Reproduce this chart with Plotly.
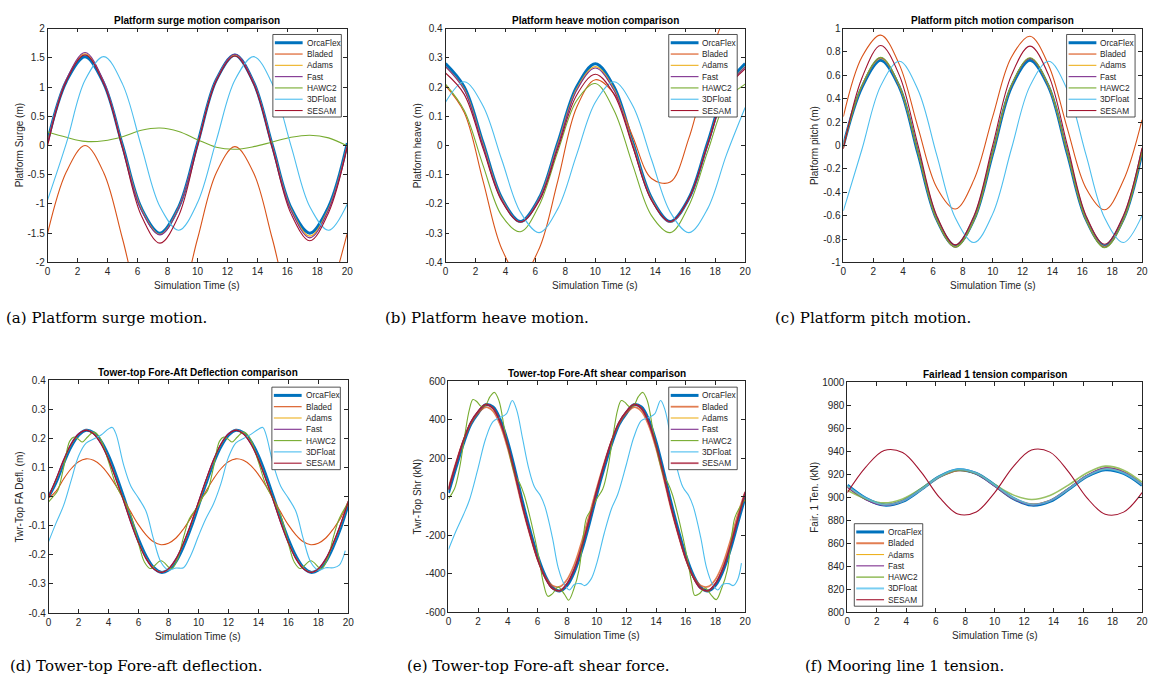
import plotly.graph_objects as go

# ---------------------------------------------------------------
# values (time in s)
# ---------------------------------------------------------------
T_COARSE = [0, 1.25, 2.5, 3.75, 5, 6.25, 7.5, 8.75, 10, 11.25, 12.5, 13.75, 15, 16.25, 17.5, 18.75, 20]
T_FINE = [0, 0.5, 1, 1.5, 2, 2.5, 3, 3.5, 4, 4.5, 5, 5.5, 6, 6.5, 7, 7.5, 8, 8.5, 9, 9.5, 10,
          10.5, 11, 11.5, 12, 12.5, 13, 13.5, 14, 14.5, 15, 15.5, 16, 16.5, 17, 17.5, 18, 18.5, 19, 19.5, 20]

NAMES = ["OrcaFlex", "Bladed", "Adams", "Fast", "HAWC2", "3DFloat", "SESAM"]
COLORS = ["#0072BD", "#D95319", "#EDB120", "#7E2F8E", "#77AC30", "#4DBEEE", "#A2142F"]

X_TICKS = [0, 2, 4, 6, 8, 10, 12, 14, 16, 18, 20]
X_LABELS = ["0", "2", "4", "6", "8", "10", "12", "14", "16", "18", "20"]

# (a) platform surge (m)
SURGE_ORCAFLEX = [0.08, 1.1, 1.52, 1.06, 0.0, -1.07, -1.5, -1.05, 0.03, 1.12, 1.55, 1.08, 0.0, -1.07, -1.5, -1.05, 0.04]
SURGE_BLADED = [-1.5, -0.45, 0.0, -0.47, -1.6, -2.8, -3.3, -2.8, -1.6, -0.47, -0.02, -0.47, -1.6, -2.8, -3.3, -2.6, -1.5]
SURGE_ADAMS = [0.06, 1.12, 1.57, 1.08, -0.01, -1.08, -1.52, -1.06, 0.02, 1.12, 1.55, 1.08, -0.01, -1.09, -1.55, -1.08, 0.01]
SURGE_FAST = [0.05, 1.13, 1.59, 1.09, -0.02, -1.1, -1.53, -1.07, 0.02, 1.12, 1.56, 1.08, -0.02, -1.11, -1.58, -1.1, 0.0]
SURGE_HAWC2 = [0.23, 0.14, 0.07, 0.08, 0.15, 0.26, 0.3, 0.24, 0.1, -0.03, -0.065, -0.02, 0.06, 0.14, 0.175, 0.13, -0.01]
SURGE_3DFLOAT = [-0.93, 0.04, 1.12, 1.52, 1.05, -0.01, -1.05, -1.45, -0.98, 0.08, 1.12, 1.52, 1.05, -0.01, -1.05, -1.45, -1.0]
SURGE_SESAM = [0.0, 1.1, 1.55, 1.05, -0.05, -1.2, -1.67, -1.2, -0.01, 1.1, 1.53, 1.05, -0.05, -1.17, -1.63, -1.15, -0.02]
SURGE_TICKS = [-2, -1.5, -1, -0.5, 0, 0.5, 1, 1.5, 2]
SURGE_LABELS = ["-2", "-1.5", "-1", "-0.5", "0", "0.5", "1", "1.5", "2"]

# (b) platform heave (m)
HEAVE_ORCAFLEX = [0.28, 0.2, 0.01, -0.18, -0.26, -0.18, 0.01, 0.2, 0.28, 0.2, 0.01, -0.18, -0.26, -0.18, 0.01, 0.2, 0.28]
HEAVE_BLADED = [0.205, 0.113, -0.12, -0.353, -0.45, -0.353, -0.12, 0.13, 0.225, 0.177, 0.03, -0.113, -0.125, 0.026, 0.26, 0.437, 0.455]
HEAVE_ADAMS = [0.27, 0.193, 0.005, -0.182, -0.262, -0.182, 0.005, 0.193, 0.27, 0.193, 0.005, -0.182, -0.262, -0.182, 0.005, 0.193, 0.27]
HEAVE_FAST = [0.27, 0.19, 0.0, -0.185, -0.262, -0.184, 0.0, 0.188, 0.265, 0.188, 0.0, -0.185, -0.262, -0.183, 0.0, 0.19, 0.268]
HEAVE_HAWC2 = [0.21, 0.12, -0.067, -0.24, -0.295, -0.205, -0.02, 0.153, 0.212, 0.12, -0.067, -0.24, -0.298, -0.205, -0.02, 0.153, 0.21]
HEAVE_3DFLOAT = [0.148, 0.218, 0.136, -0.048, -0.228, -0.298, -0.216, -0.032, 0.148, 0.218, 0.136, -0.048, -0.228, -0.298, -0.216, -0.032, 0.13]
HEAVE_SESAM = [0.248, 0.175, -0.01, -0.19, -0.262, -0.19, -0.01, 0.172, 0.244, 0.175, -0.005, -0.188, -0.26, -0.18, 0.005, 0.19, 0.262]
HEAVE_TICKS = [-0.4, -0.3, -0.2, -0.1, 0, 0.1, 0.2, 0.3, 0.4]
HEAVE_LABELS = ["-0.4", "-0.3", "-0.2", "-0.1", "0", "0.1", "0.2", "0.3", "0.4"]

# (c) platform pitch
PITCH_ORCAFLEX = [0.0, 0.5, 0.73, 0.5, -0.07, -0.63, -0.86, -0.63, -0.07, 0.5, 0.73, 0.5, -0.07, -0.63, -0.86, -0.63, -0.06]
PITCH_BLADED = [0.247, 0.759, 0.944, 0.692, 0.153, -0.359, -0.543, -0.292, 0.247, 0.755, 0.935, 0.685, 0.145, -0.365, -0.55, -0.3, 0.22]
PITCH_ADAMS = [0.0, 0.51, 0.745, 0.505, -0.06, -0.63, -0.865, -0.63, -0.06, 0.51, 0.745, 0.505, -0.06, -0.63, -0.865, -0.63, -0.05]
PITCH_FAST = [-0.01, 0.51, 0.75, 0.51, -0.06, -0.635, -0.87, -0.635, -0.06, 0.51, 0.745, 0.51, -0.06, -0.635, -0.87, -0.635, -0.05]
PITCH_HAWC2 = [-0.02, 0.515, 0.755, 0.515, -0.06, -0.635, -0.87, -0.64, -0.06, 0.515, 0.75, 0.515, -0.06, -0.635, -0.875, -0.64, -0.05]
PITCH_3DFLOAT = [-0.56, -0.03, 0.51, 0.72, 0.475, -0.08, -0.62, -0.83, -0.585, -0.03, 0.51, 0.72, 0.475, -0.08, -0.62, -0.83, -0.6]
PITCH_SESAM = [-0.03, 0.58, 0.855, 0.6, 0.0, -0.6, -0.85, -0.6, 0.0, 0.6, 0.85, 0.6, 0.0, -0.6, -0.845, -0.6, -0.02]
PITCH_TICKS = [-1, -0.8, -0.6, -0.4, -0.2, 0, 0.2, 0.4, 0.6, 0.8, 1]
PITCH_LABELS = ["-1", "-0.8", "-0.6", "-0.4", "-0.2", "0", "0.2", "0.4", "0.6", "0.8", "1"]

# (d) tower-top fore-aft deflection (m)
DEFL_ORCAFLEX = [0.0, 0.05, 0.115, 0.172, 0.211, 0.228, 0.22, 0.19, 0.14, 0.074,
                 0.0, -0.077, -0.147, -0.204, -0.243, -0.26, -0.252, -0.222, -0.171, -0.106,
                 -0.031, 0.045, 0.115, 0.172, 0.211, 0.228, 0.22, 0.19, 0.14, 0.074,
                 -0.001, -0.077, -0.147, -0.204, -0.243, -0.26, -0.252, -0.222, -0.171, -0.106, -0.025]
DEFL_BLADED = [-0.005, 0.019, 0.061, 0.096, 0.12, 0.13, 0.125, 0.107, 0.076, 0.037,
               -0.008, -0.054, -0.097, -0.131, -0.155, -0.165, -0.16, -0.142, -0.111, -0.072,
               -0.027, 0.019, 0.061, 0.096, 0.12, 0.13, 0.125, 0.107, 0.076, 0.037,
               -0.008, -0.054, -0.097, -0.131, -0.155, -0.165, -0.16, -0.142, -0.111, -0.072, -0.015]
DEFL_ADAMS = [0.0, 0.058, 0.123, 0.179, 0.215, 0.229, 0.217, 0.184, 0.13, 0.062,
              -0.012, -0.088, -0.157, -0.211, -0.246, -0.26, -0.249, -0.215, -0.162, -0.096,
              -0.021, 0.054, 0.123, 0.179, 0.215, 0.229, 0.217, 0.184, 0.13, 0.062,
              -0.012, -0.088, -0.157, -0.211, -0.246, -0.26, -0.249, -0.215, -0.162, -0.096, -0.018]
DEFL_FAST = [0.0, 0.062, 0.128, 0.183, 0.217, 0.229, 0.215, 0.18, 0.126, 0.058,
             -0.015, -0.092, -0.16, -0.214, -0.248, -0.26, -0.247, -0.212, -0.158, -0.092,
             -0.017, 0.058, 0.127, 0.182, 0.217, 0.229, 0.215, 0.18, 0.126, 0.058,
             -0.015, -0.092, -0.16, -0.214, -0.248, -0.26, -0.247, -0.212, -0.158, -0.092, -0.015]
DEFL_SESAM = [0.0, 0.06, 0.125, 0.18, 0.215, 0.228, 0.216, 0.182, 0.128, 0.06,
              -0.013, -0.09, -0.158, -0.212, -0.247, -0.26, -0.248, -0.214, -0.16, -0.094,
              -0.019, 0.056, 0.125, 0.18, 0.215, 0.228, 0.216, 0.182, 0.128, 0.06,
              -0.013, -0.09, -0.158, -0.212, -0.247, -0.26, -0.248, -0.214, -0.16, -0.094, -0.018]
DEFL_HAWC2_T = [0, 0.3, 0.6, 1.0, 1.4, 1.7, 2.0, 2.25, 2.6, 3.0, 3.4, 4.0, 4.5, 5.0, 5.5, 6.0, 6.4, 6.8, 7.5, 8.2,
                8.6, 9.0, 9.4, 10.0, 10.3, 10.6, 11.0, 11.4, 11.7, 12.0, 12.25, 12.6, 13.0, 13.4, 14.0, 14.5,
                15.0, 15.5, 16.0, 16.4, 16.8, 17.5, 18.2, 18.6, 19.0, 19.4, 20.0]
DEFL_HAWC2 = [-0.018, 0.0, 0.02, 0.1, 0.19, 0.205, 0.197, 0.188, 0.205, 0.222, 0.205, 0.12, 0.04, -0.01, -0.065,
              -0.16, -0.225, -0.247, -0.22, -0.248, -0.215, -0.14, -0.075, -0.03, 0.0, 0.02, 0.1, 0.19, 0.205,
              0.197, 0.188, 0.205, 0.222, 0.205, 0.12, 0.04, -0.01, -0.065, -0.16, -0.225, -0.247, -0.22,
              -0.248, -0.215, -0.14, -0.075, -0.02]
DEFL_3DFLOAT_T = [0, 0.5, 1.0, 1.5, 2.0, 2.5, 3.0, 3.5, 4.0, 4.25, 4.5, 5.0, 5.5, 6.0, 6.5, 7.0, 7.5, 8.0, 8.5,
                  9.0, 9.5, 10.0, 10.5, 11.0, 11.5, 12.0, 12.5, 13.0, 13.5, 14.0, 14.3, 14.5, 15.0, 15.5, 16.0,
                  16.5, 17.0, 17.5, 18.0, 18.5, 19.0, 19.4, 19.8]
DEFL_3DFLOAT = [-0.154, -0.09, -0.03, 0.055, 0.14, 0.184, 0.198, 0.212, 0.233, 0.238, 0.215, 0.11, 0.035,
                -0.005, -0.05, -0.145, -0.225, -0.252, -0.245, -0.244, -0.2, -0.135, -0.075, -0.025, 0.045,
                0.135, 0.185, 0.2, 0.214, 0.232, 0.238, 0.215, 0.11, 0.035, -0.005, -0.05, -0.145, -0.225,
                -0.252, -0.244, -0.244, -0.235, -0.185]
DEFL_TICKS = HEAVE_TICKS
DEFL_LABELS = HEAVE_LABELS

# (e) tower-top fore-aft shear (kN)
SHEAR_ORCAFLEX = [20, 151, 275, 376, 435, 478, 466, 398, 282, 132, -30, -177, -307, -408, -471, -490, -461, -387, -275, -137,
                  14, 151, 275, 376, 435, 478, 466, 398, 282, 132, -30, -177, -307, -408, -471, -490, -461, -387, -275, -137, 0]
SHEAR_BLADED = [45, 175, 290, 380, 435, 465, 445, 370, 250, 100, -60, -200, -325, -415, -462, -468, -430, -350, -230, -95,
                45, 175, 290, 380, 435, 465, 445, 370, 250, 100, -60, -200, -325, -415, -462, -468, -430, -350, -230, -95, 25]
SHEAR_ADAMS = [38, 170, 290, 386, 444, 480, 460, 385, 264, 112, -52, -196, -324, -419, -477, -489, -451, -374, -257, -118,
               32, 170, 290, 386, 444, 480, 460, 385, 264, 112, -52, -196, -324, -419, -477, -489, -451, -374, -257, -118, 22]
SHEAR_FAST = [40, 172, 292, 388, 445, 480, 458, 383, 262, 110, -55, -198, -325, -420, -478, -488, -450, -372, -255, -115,
              35, 172, 292, 388, 445, 480, 458, 383, 262, 110, -55, -198, -325, -420, -478, -488, -450, -372, -255, -115, 25]
SHEAR_SESAM = [35, 168, 290, 386, 444, 479, 460, 386, 266, 115, -50, -194, -322, -418, -476, -489, -452, -375, -258, -120,
               30, 168, 290, 386, 444, 479, 460, 386, 266, 115, -50, -194, -322, -418, -476, -489, -452, -375, -258, -120, 20]
SHEAR_HAWC2_T = [0, 0.4, 0.75, 1.1, 1.4, 1.65, 1.9, 2.2, 2.5, 2.8, 3.1, 3.4, 3.8, 4.2, 4.5, 4.8, 5.1, 5.6, 6.1, 6.4,
                 6.7, 7.0, 7.4, 7.8, 8.1, 8.45, 8.8, 9.1, 9.3, 9.6, 10.0, 10.4, 10.75, 11.1, 11.4, 11.65, 11.9, 12.2,
                 12.5, 12.8, 13.1, 13.4, 13.8, 14.2, 14.5, 14.8, 15.1, 15.6, 16.1, 16.4, 16.6, 16.9, 17.3, 17.7,
                 18.05, 18.4, 18.8, 19.1, 19.3, 19.6, 20.0]
SHEAR_HAWC2 = [-10, 40, 150, 320, 450, 505, 495, 470, 475, 520, 542, 500, 340, 190, 110, 70, 10, -140, -320, -450,
               -518, -505, -470, -505, -538, -480, -380, -200, -110, -70, -10, 40, 150, 320, 450, 500, 490, 468,
               475, 520, 542, 500, 340, 190, 110, 70, 10, -140, -320, -450, -513, -505, -475, -510, -535, -480,
               -380, -200, -110, -60, -15]
SHEAR_3DFLOAT_T = [0, 0.5, 1.0, 1.4, 2.0, 2.5, 3.0, 3.5, 3.9, 4.3, 4.6, 5.0, 5.4, 5.8, 6.2, 6.5, 7.0, 7.4, 7.8, 8.15,
                   8.5, 8.9, 9.2, 9.6, 10.0, 10.5, 11.0, 11.4, 12.0, 12.5, 13.0, 13.5, 13.9, 14.3, 14.6, 15.0, 15.4,
                   15.8, 16.2, 16.5, 17.0, 17.4, 17.8, 18.15, 18.5, 18.9, 19.2, 19.5, 19.75]
SHEAR_3DFLOAT = [-275, -180, -95, -20, 150, 300, 390, 412, 430, 500, 450, 300, 150, 50, 5, -50, -210, -370, -455, -485,
                 -455, -452, -462, -430, -345, -190, -60, 10, 170, 310, 395, 412, 430, 500, 450, 300, 150, 50, 5, -50,
                 -210, -370, -455, -485, -455, -452, -462, -430, -345]
SHEAR_TICKS = [-600, -400, -200, 0, 200, 400, 600]
SHEAR_LABELS = ["-600", "-400", "-200", "0", "200", "400", "600"]

# (f) fairlead 1 tension (kN)
FAIR_ORCAFLEX = [910.4, 899.0, 893.1, 896.3, 906.6, 918.0, 923.9, 920.7, 910.4, 899.0, 893.1, 896.3, 906.6, 918.0, 923.9, 920.7, 910.4]
FAIR_BLADED = [909.0, 898.5, 893.5, 896.8, 906.8, 917.6, 923.3, 920.6, 910.0, 899.0, 893.8, 897.0, 907.2, 918.6, 925.0, 921.8, 911.0]
FAIR_ADAMS = [909.5, 898.6, 893.3, 896.5, 906.5, 917.7, 923.5, 920.5, 910.2, 899.2, 893.6, 896.8, 907.0, 918.5, 924.8, 921.5, 911.0]
FAIR_FAST = [908.5, 897.8, 892.8, 896.4, 906.8, 917.8, 923.5, 920.2, 909.6, 898.6, 893.2, 896.8, 907.4, 918.9, 925.5, 922.0, 911.2]
FAIR_HAWC2 = [906.0, 898.5, 895.0, 898.5, 907.5, 918.0, 923.5, 920.5, 911.0, 902.0, 898.0, 901.5, 910.5, 921.0, 927.0, 923.5, 913.0]
FAIR_3DFLOAT = [910.0, 899.2, 893.5, 896.6, 906.6, 918.0, 924.2, 920.9, 910.5, 899.5, 893.6, 896.8, 907.0, 918.4, 924.4, 921.0, 911.0]
FAIR_SESAM = [904.0, 926.2, 940.6, 938.8, 922.0, 899.8, 885.4, 887.2, 904.0, 926.4, 941.0, 939.2, 922.2, 899.6, 885.2, 887.0, 904.0]
FAIR_TICKS = [800, 820, 840, 860, 880, 900, 920, 940, 960, 980, 1000]
FAIR_LABELS = ["800", "820", "840", "860", "880", "900", "920", "940", "960", "980", "1000"]

# ---------------------------------------------------------------
# page geometry (pixels) and styling
# ---------------------------------------------------------------
W, H = 1150, 680
SANS = "Liberation Sans, Arial, Helvetica, sans-serif"
SERIF = "DejaVu Serif, serif"
INK = "#262626"

THIN = [3, 1.1, 1.1, 1.1, 1.1, 1.1, 1.1]

panels = [
    dict(title="Platform surge motion comparison", ytitle="Platform Surge (m)",
         caption="(a) Platform surge motion.", cap_xy=(1, 318),
         box=(45, 347, 23, 261), ygap=28, yrange=[-2, 2], yticks=SURGE_TICKS, ylabels=SURGE_LABELS,
         legend=(272, 29), widths=THIN,
         series=[(T_COARSE, SURGE_ORCAFLEX), (T_COARSE, SURGE_BLADED), (T_COARSE, SURGE_ADAMS),
                 (T_COARSE, SURGE_FAST), (T_COARSE, SURGE_HAWC2), (T_COARSE, SURGE_3DFLOAT),
                 (T_COARSE, SURGE_SESAM)]),
    dict(title="Platform heave motion comparison", ytitle="Platform heave (m)",
         caption="(b) Platform heave motion.", cap_xy=(383, 318),
         box=(446, 748, 23, 261), ygap=28, yrange=[-0.4, 0.4], yticks=HEAVE_TICKS, ylabels=HEAVE_LABELS,
         legend=(671, 29), widths=THIN,
         series=[(T_COARSE, HEAVE_ORCAFLEX), (T_COARSE, HEAVE_BLADED), (T_COARSE, HEAVE_ADAMS),
                 (T_COARSE, HEAVE_FAST), (T_COARSE, HEAVE_HAWC2), (T_COARSE, HEAVE_3DFLOAT),
                 (T_COARSE, HEAVE_SESAM)]),
    dict(title="Platform pitch motion comparison", ytitle="Platform pitch (m)",
         caption="(c) Platform pitch motion.", cap_xy=(776, 318),
         box=(847, 1148, 23, 261), ygap=29, yrange=[-1, 1], yticks=PITCH_TICKS, ylabels=PITCH_LABELS,
         legend=(1072, 29), widths=THIN,
         series=[(T_COARSE, PITCH_ORCAFLEX), (T_COARSE, PITCH_BLADED), (T_COARSE, PITCH_ADAMS),
                 (T_COARSE, PITCH_FAST), (T_COARSE, PITCH_HAWC2), (T_COARSE, PITCH_3DFLOAT),
                 (T_COARSE, PITCH_SESAM)]),
    dict(title="Tower-top Fore-Aft Deflection comparison", ytitle="Twr-Top FA Defl. (m)",
         caption="(d) Tower-top Fore-aft deflection.", cap_xy=(5, 672),
         box=(46, 348, 381, 618), ygap=29, yrange=[-0.4, 0.4], yticks=DEFL_TICKS, ylabels=DEFL_LABELS,
         legend=(271, 388), widths=THIN,
         series=[(T_FINE, DEFL_ORCAFLEX), (T_FINE, DEFL_BLADED), (T_FINE, DEFL_ADAMS),
                 (T_FINE, DEFL_FAST), (DEFL_HAWC2_T, DEFL_HAWC2), (DEFL_3DFLOAT_T, DEFL_3DFLOAT),
                 (T_FINE, DEFL_SESAM)]),
    dict(title="Tower-top Fore-Aft shear comparison", ytitle="Twr-Top Shr (kN)",
         caption="(e) Tower-top Fore-aft shear force.", cap_xy=(405, 672),
         box=(449, 748, 382, 617), ygap=31, yrange=[-600, 600], yticks=SHEAR_TICKS, ylabels=SHEAR_LABELS,
         legend=(671, 388), widths=[3, 1.8, 1.1, 1.1, 1.1, 1.1, 1.8],
         series=[(T_FINE, SHEAR_ORCAFLEX), (T_FINE, SHEAR_BLADED), (T_FINE, SHEAR_ADAMS),
                 (T_FINE, SHEAR_FAST), (SHEAR_HAWC2_T, SHEAR_HAWC2), (SHEAR_3DFLOAT_T, SHEAR_3DFLOAT),
                 (T_FINE, SHEAR_SESAM)]),
    dict(title="Fairlead 1 tension comparison", ytitle="Fair. 1 Ten. (kN)",
         caption="(f) Mooring line 1 tension.", cap_xy=(806, 672),
         box=(851, 1148, 383, 617), ygap=33, yrange=[800, 1000], yticks=FAIR_TICKS, ylabels=FAIR_LABELS,
         legend=(858, 527), widths=[3, 2, 1.1, 1.1, 1.6, 2, 1.1],
         series=[(T_COARSE, FAIR_ORCAFLEX), (T_COARSE, FAIR_BLADED), (T_COARSE, FAIR_ADAMS),
                 (T_COARSE, FAIR_FAST), (T_COARSE, FAIR_HAWC2), (T_COARSE, FAIR_3DFLOAT),
                 (T_COARSE, FAIR_SESAM)]),
]


def fx(x):
    return x / W


def fy(y):
    return 1 - y / H


fig = go.Figure()
shapes, notes = [], []

axis_style = dict(showline=True, linecolor=INK, linewidth=0.8, mirror="ticks", ticks="inside",
                  ticklen=4, tickwidth=0.8, tickcolor=INK, showgrid=False, zeroline=False,
                  tickfont=dict(family=SANS, size=10, color=INK), fixedrange=True,
                  ticklabeloverflow="allow")

for k, p in enumerate(panels, start=1):
    sfx = "" if k == 1 else str(k)
    L, R, T, B = p["box"]
    for name, color, (t, v), w in zip(NAMES, COLORS, p["series"], p["widths"]):
        fig.add_trace(go.Scatter(
            x=t, y=v, name=name, mode="lines",
            line=dict(color=color, width=w, shape="spline", smoothing=1.0),
            opacity=0.75 if (w > 1.2 and w < 3) else 1.0,
            xaxis="x" + sfx, yaxis="y" + sfx, showlegend=False, hoverinfo="skip"))

    fig.update_layout(**{
        "xaxis" + sfx: dict(domain=[fx(L), fx(R)], anchor="y" + sfx, range=[0, 20],
                            tickmode="array", tickvals=X_TICKS, ticktext=X_LABELS, **axis_style),
        "yaxis" + sfx: dict(domain=[fy(B), fy(T)], anchor="x" + sfx, range=p["yrange"],
                            tickmode="array", tickvals=p["yticks"], ticktext=p["ylabels"], **axis_style),
    })

    # title, axis labels, caption
    notes.append(dict(text="<b>" + p["title"] + "</b>", x=fx((L + R) / 2), y=fy(T - 8),
                      font=dict(family=SANS, size=10, color="black")))
    notes.append(dict(text="Simulation Time (s)", x=fx((L + R) / 2), y=fy(B + 24),
                      font=dict(family=SANS, size=10, color=INK)))
    notes.append(dict(text=p["ytitle"], x=fx(L - p["ygap"]), y=fy((T + B) / 2), textangle=-90,
                      font=dict(family=SANS, size=10, color=INK)))
    cx, cy = p["cap_xy"]
    notes.append(dict(text=p["caption"], x=fx(cx), y=fy(cy), xanchor="left",
                      font=dict(family=SERIF, size=15, color="black")))

    # boxed legend drawn like the MATLAB one
    lx, ly = p["legend"]
    shapes.append(dict(type="rect", xref="paper", yref="paper", x0=fx(lx), x1=fx(lx + 69),
                       y0=fy(ly + 84), y1=fy(ly), fillcolor="white", line=dict(color=INK, width=0.8)))
    for i, (name, color, w) in enumerate(zip(NAMES, COLORS, p["widths"])):
        yc = ly + 8.4 + 11.5 * i
        shapes.append(dict(type="line", xref="paper", yref="paper", x0=fx(lx + 2), x1=fx(lx + 30),
                           y0=fy(yc), y1=fy(yc), line=dict(color=color, width=w),
                           opacity=0.75 if (w > 1.2 and w < 3) else 1.0))
        notes.append(dict(text=name, x=fx(lx + 32), y=fy(yc), xanchor="left",
                          font=dict(family=SANS, size=8.3, color=INK)))

for n in notes:
    n.setdefault("xanchor", "center")
    n.update(xref="paper", yref="paper", yanchor="middle", showarrow=False)

fig.update_layout(
    width=W, height=H, autosize=False,
    margin=dict(l=0, r=0, t=0, b=0),
    paper_bgcolor="white", plot_bgcolor="white",
    showlegend=False, shapes=shapes, annotations=notes,
)

# the page body has a default 8px margin; drop it so the figure fills the window
fig.write_html("out.html", config={"displayModeBar": False},
               post_script="document.body.style.margin='0';document.body.style.overflow='hidden';")
